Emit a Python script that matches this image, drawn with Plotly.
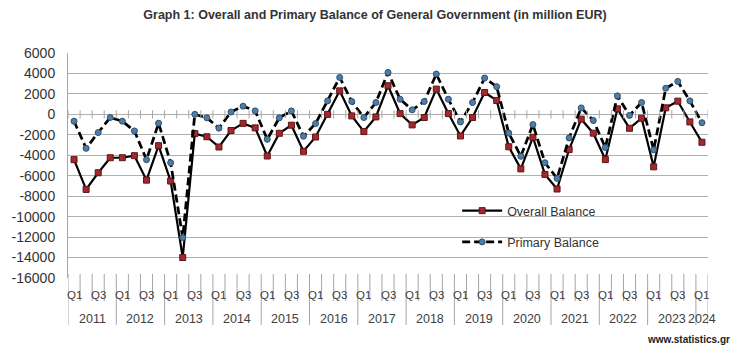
import plotly.graph_objects as go

years = ["2011", "2012", "2013", "2014", "2015", "2016", "2017", "2018",
         "2019", "2020", "2021", "2022", "2023", "2024"]
quarters_per_year = [4, 4, 4, 4, 4, 4, 4, 4, 4, 4, 4, 4, 4, 1]
quarter_names = ["Q1", "Q2", "Q3", "Q4"]
shown_quarters = ["Q1", "Q3"]

overall_balance = [
    -4430, -7340, -5710, -4240,   # 2011
    -4240, -4040, -6430, -3060,   # 2012
    -6520, -14000, -1880, -2190,  # 2013
    -3190, -1580, -880, -1320,    # 2014
    -4070, -1850, -1060, -3610,   # 2015
    -2210, 0, 2300, -150,         # 2016
    -1680, -250, 2800, 80,        # 2017
    -1030, -310, 2470, 80,        # 2018
    -2110, -310, 2140, 1360,      # 2019
    -3170, -5330, -2240, -5870,   # 2020
    -7300, -3440, -470, -1840,    # 2021
    -4420, 540, -1360, -380,      # 2022
    -5130, 640, 1290, -740,       # 2023
    -2730,                        # 2024
]
primary_balance = [
    -670, -3320, -1780, -310,     # 2011
    -670, -1620, -4430, -870,     # 2012
    -4730, -12050, 0, -340,       # 2013
    -1350, 230, 800, 340,         # 2014
    -2440, -340, 340, -2140,      # 2015
    -900, 1320, 3610, 1260,       # 2016
    -310, 1160, 4100, 1480,       # 2017
    440, 1260, 3940, 1480,        # 2018
    -740, 1160, 3550, 2710,       # 2019
    -1830, -4100, -1000, -4730,   # 2020
    -6260, -2300, 630, -590,      # 2021
    -3250, 1810, -100, 1160,      # 2022
    -3470, 2550, 3220, 1320,      # 2023
    -815,                         # 2024
]
y_ticks = [6000, 4000, 2000, 0, -2000, -4000, -6000, -8000, -10000,
           -12000, -14000, -16000]

# category labels
labels = []
for yr, nq in zip(years, quarters_per_year):
    for q in range(nq):
        labels.append((yr, quarter_names[q]))
xs = list(range(len(labels)))

fig = go.Figure()
fig.add_trace(go.Scatter(
    x=xs, y=overall_balance, name="Overall Balance", mode="lines+markers",
    legendgroup="a",
    line=dict(color="black", width=2.2),
    marker=dict(symbol="square", size=6, color="#A3282E",
                line=dict(color="#5E1418", width=1)),
))
fig.add_trace(go.Scatter(
    x=xs, y=primary_balance, name="Primary Balance", mode="lines+markers",
    legendgroup="b",
    line=dict(color="black", width=2.75, dash="8px,4px"),
    marker=dict(symbol="circle", size=6, color="#4F7DA6",
                line=dict(color="#2C4F6E", width=1)),
))

ymin, ymax = min(y_ticks), max(y_ticks)
plot_h = 225.0

shapes = []
boundaries = [i - 0.5 for i in range(len(labels) + 1)]
year_starts = []
acc = 0
for nq in quarters_per_year:
    year_starts.append(acc)
    acc += nq
year_bounds = set([s - 0.5 for s in year_starts] + [len(labels) - 0.5])
for b in boundaries:
    shapes.append(dict(type="line", xref="x", yref="y", x0=b, x1=b,
                       y0=-400, y1=400, line=dict(color="#A6A6A6", width=1)))
    y_end = -47 / plot_h if b in year_bounds else -23 / plot_h
    shapes.append(dict(type="line", xref="x", yref="paper", x0=b, x1=b,
                       y0=4 / plot_h, y1=y_end,
                       line=dict(color="#A6A6A6", width=1)))

annotations = []
for i, (yr, q) in enumerate(labels):
    if q in shown_quarters:
        annotations.append(dict(x=i, y=0, xref="x", yref="paper", text=q,
                                showarrow=False, yshift=-17, yanchor="middle",
                                font=dict(size=11.5, color="#404040",
                                          family="Liberation Sans")))
for yr, s, nq in zip(years, year_starts, quarters_per_year):
    annotations.append(dict(x=s + (nq - 1) / 2, y=0, xref="x", yref="paper",
                            text=yr, showarrow=False, yshift=-41,
                            yanchor="middle",
                            font=dict(size=12.5, color="#404040",
                                      family="Liberation Sans")))
annotations.append(dict(x=(732 - 60) / 648, y=(278 - 339) / plot_h,
                        xref="paper", yref="paper",
                        text="<b>www.statistics.gr</b>", showarrow=False,
                        xanchor="right", yanchor="middle",
                        font=dict(size=10, color="#222222",
                                  family="Liberation Sans")))

fig.update_layout(
    width=750, height=351,
    margin=dict(l=60, r=42, t=53, b=73),
    paper_bgcolor="white", plot_bgcolor="white",
    title=dict(text="<b>Graph 1: Overall and Primary Balance of General Government (in million EUR)</b>",
               x=0.5, xanchor="center", y=1 - 15 / 351, yanchor="middle",
               font=dict(size=12.5, color="#333333", family="Liberation Sans")),
    xaxis=dict(range=[-0.5, len(labels) - 0.5], showgrid=False,
               showticklabels=False, zeroline=False, showline=False,
               ticks=""),
    yaxis=dict(range=[ymin, ymax], tickvals=y_ticks,
               ticktext=[str(v) for v in y_ticks],
               showgrid=True, gridcolor="#B0B0B0", gridwidth=1,
               zeroline=False, showline=True, linecolor="#A6A6A6",
               linewidth=1, ticks="", ticklabelstandoff=9,
               tickfont=dict(size=14, color="#333333",
                             family="Liberation Sans")),
    legend=dict(x=(454 - 60) / 648, y=(278 - 196) / plot_h,
                xanchor="left", yanchor="top",
                bgcolor="rgba(0,0,0,0)", traceorder="grouped",
                tracegroupgap=12, itemwidth=40,
                font=dict(size=12.5, color="#333333",
                          family="Liberation Sans")),
    shapes=shapes,
    annotations=annotations,
    showlegend=True,
)

fig.write_html("out.html")
